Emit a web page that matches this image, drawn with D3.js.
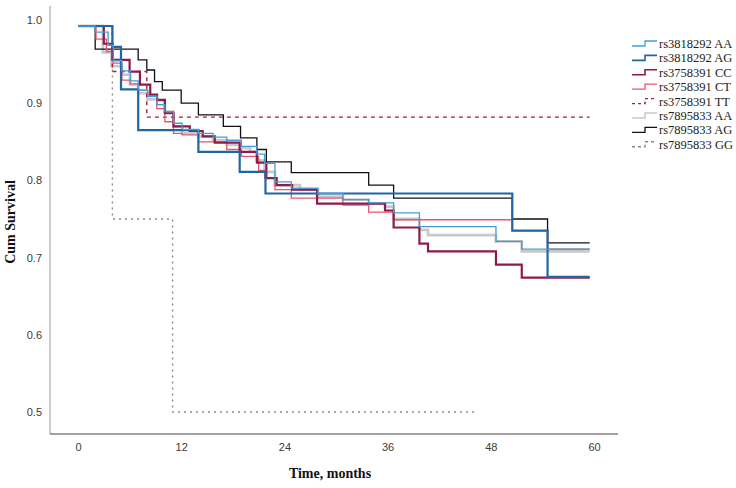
<!DOCTYPE html>
<html>
<head>
<meta charset="utf-8">
<script src="https://cdn.jsdelivr.net/npm/d3@7"></script>
<style>
  body { margin: 0; background: #fff; }
  svg { display: block; }
</style>
</head>
<body>
<svg id="chart" width="736" height="488"></svg>
<script>
// ---------- data ----------
const seriesNames = ["rs3818292 AA", "rs3818292 AG", "rs3758391 CC", "rs3758391 CT",
                     "rs3758391 TT", "rs7895833 AA", "rs7895833 AG", "rs7895833 GG"];
const xTicks = [0, 12, 24, 36, 48, 60];
const yTicks = [0.5, 0.6, 0.7, 0.8, 0.9, 1.0];
const endTimes = [59.5, 59.5, 59.5, 59.5, 59.5, 59.5, 59.5, 46.5];

const aa3818292T = [0, 2.0, 3.5, 4.1, 5.1, 6.1, 7.0, 8.1, 9.2, 10.1, 11.1, 12.1, 14.0, 15.7, 17.3, 19.0, 20.8, 21.7, 22.9, 24.8, 27.9, 30.8, 33.8, 36.7, 39.7, 48.6, 51.6];
const aa3818292S = [1, 0.992, 0.975, 0.955, 0.942, 0.929, 0.917, 0.909, 0.898, 0.889, 0.874, 0.866, 0.861, 0.856, 0.852, 0.844, 0.834, 0.822, 0.798, 0.790, 0.783, 0.775, 0.771, 0.758, 0.740, 0.721, 0.711];

const ag3818292T = [0, 4.0, 5.0, 7.0, 14.0, 18.8, 21.8, 50.5, 54.6];
const ag3818292S = [1, 0.973, 0.918, 0.865, 0.837, 0.811, 0.783, 0.735, 0.675];

const cc3758391T = [0, 3.0, 4.0, 6.0, 7.2, 8.4, 9.2, 10.1, 11.1, 13.0, 14.5, 15.9, 18.8, 20.8, 21.9, 23.1, 24.9, 27.8, 35.7, 36.7, 39.7, 40.7, 48.6, 51.6];
const cc3758391S = [1, 0.977, 0.956, 0.941, 0.924, 0.911, 0.904, 0.887, 0.870, 0.864, 0.857, 0.849, 0.837, 0.823, 0.803, 0.794, 0.788, 0.770, 0.761, 0.739, 0.718, 0.708, 0.691, 0.674];

const ct3758391T = [0, 2.1, 3.3, 4.1, 5.1, 6.05, 7.0, 8.1, 9.15, 10.1, 11.1, 12.1, 14.0, 17.3, 19.0, 21.0, 21.7, 22.9, 24.8, 30.8, 33.8, 36.7, 50.5, 54.6];
const ct3758391S = [1, 0.983, 0.967, 0.952, 0.930, 0.925, 0.917, 0.911, 0.893, 0.876, 0.861, 0.859, 0.850, 0.840, 0.831, 0.813, 0.803, 0.788, 0.777, 0.768, 0.759, 0.749, 0.735, 0.711];

const tt3758391T = [0, 4.0, 8.0];
const tt3758391S = [1, 0.941, 0.882];

const aa7895833T = [0, 2.9, 3.9, 5.1, 6.05, 7.0, 8.06, 10.1, 11.1, 12.1, 14.0, 15.7, 17.3, 18.8, 20.0, 20.8, 21.7, 22.9, 25.8, 27.9, 30.8, 33.8, 35.7, 36.7, 39.7, 40.7, 48.6, 51.6];
const aa7895833S = [1, 0.966, 0.948, 0.937, 0.924, 0.913, 0.905, 0.889, 0.870, 0.861, 0.857, 0.852, 0.846, 0.842, 0.837, 0.826, 0.811, 0.794, 0.788, 0.779, 0.775, 0.770, 0.766, 0.750, 0.736, 0.729, 0.721, 0.708];

const ag7895833T = [0, 2.0, 7.0, 8.0, 8.9, 9.8, 12.0, 14.0, 16.9, 18.9, 20.8, 21.9, 24.8, 33.8, 36.7, 50.5, 54.6];
const ag7895833S = [1, 0.970, 0.956, 0.943, 0.928, 0.917, 0.900, 0.885, 0.870, 0.855, 0.840, 0.824, 0.810, 0.794, 0.777, 0.750, 0.719];

const gg7895833T = [0, 4.0, 11.0];
const gg7895833S = [1, 0.75, 0.5];

// ---------- styles ----------
const styles = [
  { color: "#3f9fdc", width: 1.3, dash: null },
  { color: "#1f66a3", width: 2.2, dash: null },
  { color: "#8e1b4b", width: 2.2, dash: null },
  { color: "#ea5470", width: 1.3, dash: null },
  { color: "#a8232f", width: 1.4, dash: "4,4" },
  { color: "#c9c9c9", width: 2.8, dash: null },
  { color: "#111111", width: 1.3, dash: null },
  { color: "#8a8a8a", width: 1.4, dash: "2,4" }
];

const times = [aa3818292T, ag3818292T, cc3758391T, ct3758391T, tt3758391T, aa7895833T, ag7895833T, gg7895833T];
const survs = [aa3818292S, ag3818292S, cc3758391S, ct3758391S, tt3758391S, aa7895833S, ag7895833S, gg7895833S];

const svg = d3.select("#chart");
const x = d3.scaleLinear().domain([0, 60]).range([78, 594]);
const y = d3.scaleLinear().domain([0.5, 1.0]).range([412, 26]);

// axes lines
svg.append("line").attr("x1", 50).attr("x2", 50).attr("y1", 6).attr("y2", 434)
  .attr("stroke", "#9a9a9a").attr("stroke-width", 1);
svg.append("line").attr("x1", 50).attr("x2", 618).attr("y1", 434).attr("y2", 434)
  .attr("stroke", "#444").attr("stroke-width", 1.2);

// x axis tick labels
const xAxis = d3.axisBottom(x).tickValues(xTicks).tickSize(0).tickPadding(0);
const gx = svg.append("g").attr("transform", "translate(0,443)").call(xAxis);
gx.select(".domain").remove();
gx.selectAll("text").attr("font-family", "Liberation Sans, Arial, sans-serif")
  .attr("font-size", 11).attr("fill", "#3a3a3a").attr("dy", "0.71em");

// y axis tick labels
const yAxis = d3.axisLeft(y).tickValues(yTicks).tickFormat(d3.format(".1f")).tickSize(0).tickPadding(0);
const gy = svg.append("g").attr("transform", "translate(42,0)").call(yAxis);
gy.select(".domain").remove();
gy.selectAll("text").attr("font-family", "Liberation Sans, Arial, sans-serif")
  .attr("font-size", 11).attr("fill", "#3a3a3a")
  .attr("dy", d => d === 1.0 ? "-0.2em" : "0.32em");

// titles
svg.append("text").attr("x", 330).attr("y", 478).attr("text-anchor", "middle")
  .attr("font-family", "Liberation Serif, Times New Roman, serif").attr("font-weight", "bold")
  .attr("font-size", 14).attr("fill", "#111").text("Time, months");
svg.append("text").attr("transform", "translate(15,222) rotate(-90)").attr("text-anchor", "middle")
  .attr("font-family", "Liberation Serif, Times New Roman, serif").attr("font-weight", "bold")
  .attr("font-size", 14).attr("fill", "#111").text("Cum Survival");

// curves
const line = d3.line().x(d => x(d[0])).y(d => y(d[1])).curve(d3.curveStepAfter);
const order = [5, 7, 4, 6, 3, 2, 1, 0];
order.forEach(i => {
  const pts = times[i].map((t, k) => [t, survs[i][k]]);
  pts.push([endTimes[i], survs[i][survs[i].length - 1]]);
  const p = svg.append("path").attr("d", line(pts)).attr("fill", "none")
    .attr("stroke", styles[i].color).attr("stroke-width", styles[i].width);
  if (styles[i].dash) p.attr("stroke-dasharray", styles[i].dash);
});

// legend
const leg = svg.append("g");
seriesNames.forEach((name, i) => {
  const cy = 44 + i * 14.4;
  const g = leg.append("g");
  const p = g.append("path")
    .attr("d", `M632,${cy + 2} H645 V${cy - 3} H657`)
    .attr("fill", "none").attr("stroke", styles[i].color)
    .attr("stroke-width", Math.min(styles[i].width, 1.6));
  if (styles[i].dash) p.attr("stroke-dasharray", "3,3");
  g.append("text").attr("x", 659).attr("y", cy + 4)
    .attr("font-family", "Liberation Serif, Times New Roman, serif")
    .attr("font-size", 12.5).attr("fill", "#222").text(name);
});
</script>
</body>
</html>
